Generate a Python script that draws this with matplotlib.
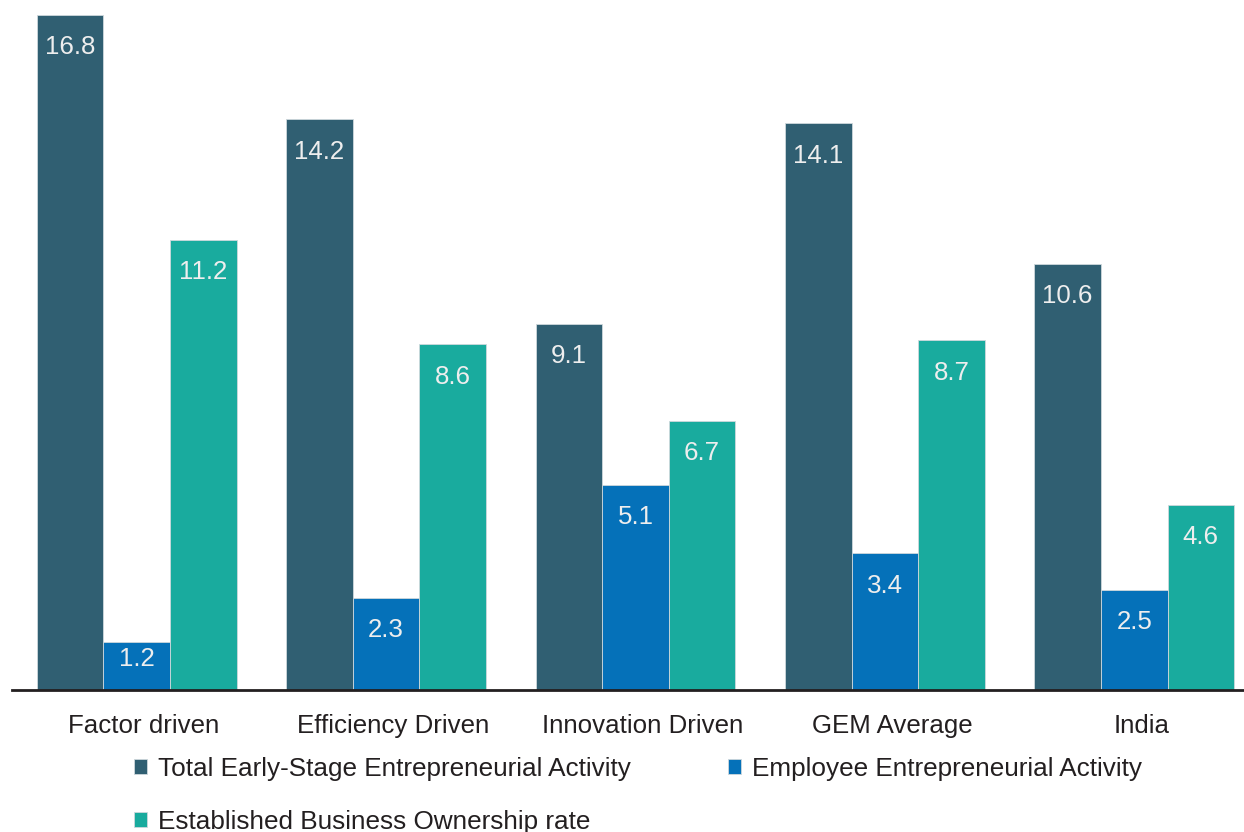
import matplotlib.pyplot as plt
import matplotlib.transforms as mtransforms
import numpy as np

plt.rcParams['font.family'] = ['Liberation Sans', 'DejaVu Sans']

categories = ['Factor driven', 'Efficiency Driven', 'Innovation Driven', 'GEM Average', 'India']
tea = [16.8, 14.2, 9.1, 14.1, 10.6]
employee = [1.2, 2.3, 5.1, 3.4, 2.5]
established = [11.2, 8.6, 6.7, 8.7, 4.6]
series_names = ['Total Early-Stage Entrepreneurial Activity',
                'Employee Entrepreneurial Activity',
                'Established Business Ownership rate']
colors = ['#305F72', '#0571B9', '#19AB9E']

fig = plt.figure(figsize=(12.44, 8.32), dpi=100)
ax = fig.add_axes([12 / 1244, 1 - 690 / 832, 1 - 12 / 1244, 690 / 832])

x = np.arange(len(categories))
w = 0.267
bars = []
for i, (vals, c) in enumerate(zip([tea, employee, established], colors)):
    b = ax.bar(x + (i - 1) * w, vals, w, color=c, edgecolor='#cfd8dc', linewidth=0.6)
    bars.append(b)
    for xi, v in zip(x + (i - 1) * w, vals):
        # value sits just under the bar top, but never too close to the baseline
        ax.text(xi, max(v - 0.8, 0.78), f'{v:.1f}', ha='center', va='center',
                color='#EEEEEE', fontsize=18.6)

ax.set_xlim(-0.5, 4.44)
ax.set_ylim(0, 17.17)
ax.set_yticks([])
ax.set_xticks(x)
ax.set_xticklabels(categories, fontsize=18.6, color='#231F20')
ax.tick_params(axis='x', length=0, pad=17)
shift = mtransforms.ScaledTranslation(7 / 100, 0, fig.dpi_scale_trans)
for lbl in ax.get_xticklabels():
    lbl.set_transform(lbl.get_transform() + shift)
for s in ['top', 'right', 'left']:
    ax.spines[s].set_visible(False)
ax.spines['bottom'].set_linewidth(2)
ax.spines['bottom'].set_color('#231F20')

# column-first fill: TEA & Established in col 1, Employee in col 2
handles = [bars[0], bars[2], bars[1]]
labels = [series_names[0], series_names[2], series_names[1]]
fig.legend(handles, labels, loc='upper left', bbox_to_anchor=(134 / 1244, 1 - 757 / 832),
           ncol=2, frameon=False, fontsize=18.8, handlelength=0.5, handleheight=0.5,
           handletextpad=0.42, columnspacing=3.7, labelspacing=1.1, labelcolor='#231F20',
           borderaxespad=0, borderpad=0)

fig.savefig('out.png', dpi=100)
